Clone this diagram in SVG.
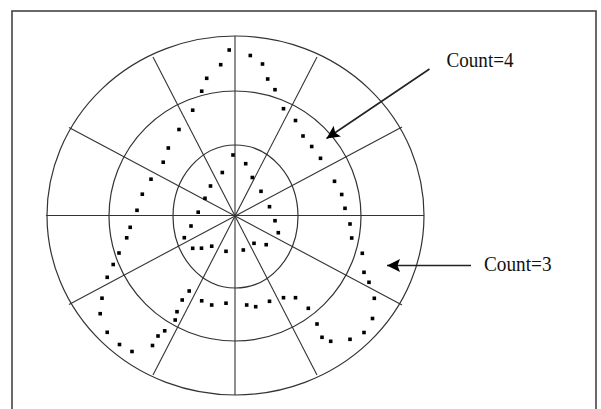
<svg xmlns="http://www.w3.org/2000/svg" width="601" height="409" viewBox="0 0 601 409">
<style>
.ring{fill:none;stroke:#333;stroke-width:1.2}
.spoke{stroke:#333;stroke-width:1.1}
.lbl{font-family:"Liberation Serif","Times New Roman",serif;font-size:21px;fill:#111}
.arr{stroke:#222;stroke-width:1.6}
.d{fill:#000}
</style>
<defs>
<marker id="ah" markerWidth="14" markerHeight="14" refX="13" refY="7" orient="auto" markerUnits="userSpaceOnUse">
<path d="M0,0.5 L13,7 L0,13.5 L2.5,7 Z" fill="#000"/>
</marker>
<rect id="dot" x="-1.8" y="-1.8" width="3.6" height="3.6"/>
</defs>
<rect x="0" y="0" width="601" height="409" fill="#fff"/>
<rect x="12" y="11" width="584" height="410" fill="none" stroke="#444" stroke-width="1.6"/>
<g id="rings">
<ellipse class="ring" cx="235.5" cy="215.5" rx="188.5" ry="179.5"/>
<ellipse class="ring" cx="235" cy="216" rx="126" ry="125"/>
<ellipse class="ring" cx="235.5" cy="216.5" rx="62.5" ry="71.5"/>
</g>
<g id="spokes">
<line class="spoke" x1="235" y1="36" x2="235" y2="395" stroke-width="1.8"/>
<line class="spoke" x1="46" y1="215.5" x2="424" y2="215.5"/>
<line class="spoke" x1="153" y1="57" x2="317" y2="375"/>
<line class="spoke" x1="317" y1="57" x2="153" y2="375"/>
<line class="spoke" x1="69" y1="127.5" x2="402" y2="305"/>
<line class="spoke" x1="402" y1="127" x2="69" y2="304.5"/>
</g>
<g id="dots" class="d">
<use href="#dot" x="229.2" y="50"/><use href="#dot" x="220.7" y="64.7"/><use href="#dot" x="206.7" y="78.3"/><use href="#dot" x="201.7" y="91.2"/>
<use href="#dot" x="192.7" y="110.2"/><use href="#dot" x="179" y="129.5"/><use href="#dot" x="168.3" y="148"/><use href="#dot" x="163.2" y="162.2"/>
<use href="#dot" x="151" y="179.2"/><use href="#dot" x="142.3" y="194.2"/><use href="#dot" x="137" y="210.3"/><use href="#dot" x="130.2" y="227.3"/>
<use href="#dot" x="126.7" y="237.8"/><use href="#dot" x="119" y="253"/><use href="#dot" x="113.2" y="264.5"/><use href="#dot" x="107.2" y="277.3"/>
<use href="#dot" x="102" y="298.2"/><use href="#dot" x="100.2" y="313.7"/><use href="#dot" x="107.2" y="332.3"/><use href="#dot" x="119.5" y="344.5"/>
<use href="#dot" x="132" y="351.5"/><use href="#dot" x="152.5" y="345.5"/><use href="#dot" x="158" y="336"/><use href="#dot" x="164.7" y="330.8"/>
<use href="#dot" x="175.2" y="320"/><use href="#dot" x="177" y="311.7"/><use href="#dot" x="182.2" y="300"/><use href="#dot" x="189.2" y="291"/>
<use href="#dot" x="201.7" y="300.8"/><use href="#dot" x="211.7" y="305"/><use href="#dot" x="226" y="303.2"/><use href="#dot" x="246.7" y="305"/>
<use href="#dot" x="255.7" y="306.7"/><use href="#dot" x="269.5" y="301.3"/><use href="#dot" x="283.5" y="297.7"/><use href="#dot" x="295.5" y="297.7"/>
<use href="#dot" x="308.3" y="308.3"/><use href="#dot" x="317" y="324"/><use href="#dot" x="322" y="337.3"/><use href="#dot" x="330.7" y="341.3"/>
<use href="#dot" x="350" y="339.3"/><use href="#dot" x="364" y="332.5"/><use href="#dot" x="372.5" y="318.5"/><use href="#dot" x="374.3" y="298.3"/>
<use href="#dot" x="369" y="282.3"/><use href="#dot" x="364" y="272.3"/><use href="#dot" x="362.3" y="253.3"/><use href="#dot" x="351.7" y="238"/>
<use href="#dot" x="350" y="224"/><use href="#dot" x="345" y="208.3"/><use href="#dot" x="341.7" y="194.5"/><use href="#dot" x="334.5" y="181.3"/>
<use href="#dot" x="320.5" y="158.3"/><use href="#dot" x="311.7" y="146.5"/><use href="#dot" x="303" y="136"/><use href="#dot" x="295.5" y="120.5"/>
<use href="#dot" x="283.5" y="108.7"/><use href="#dot" x="275" y="89.7"/><use href="#dot" x="267.7" y="79"/><use href="#dot" x="262.5" y="64"/>
<use href="#dot" x="250.3" y="55.5"/>
<use href="#dot" x="233" y="155"/><use href="#dot" x="245.7" y="163.7"/><use href="#dot" x="222.3" y="172.5"/><use href="#dot" x="252.3" y="177.5"/>
<use href="#dot" x="210.5" y="186"/><use href="#dot" x="261" y="191.3"/><use href="#dot" x="205" y="198.3"/><use href="#dot" x="269.5" y="206.7"/>
<use href="#dot" x="198.2" y="212.2"/><use href="#dot" x="275" y="220.7"/><use href="#dot" x="191" y="226"/><use href="#dot" x="278.3" y="232.7"/>
<use href="#dot" x="184.3" y="237.7"/><use href="#dot" x="192.7" y="248.3"/><use href="#dot" x="201.5" y="248.2"/><use href="#dot" x="211.7" y="246.2"/>
<use href="#dot" x="226" y="251.3"/><use href="#dot" x="243.3" y="250"/><use href="#dot" x="254" y="243.3"/><use href="#dot" x="266.2" y="244.7"/>
</g>
<g id="connectors">
<line class="arr" x1="429.5" y1="69" x2="326.5" y2="138.5" marker-end="url(#ah)"/>
<line class="arr" x1="471" y1="265.5" x2="387" y2="265.5" marker-end="url(#ah)"/>
</g>
<g id="label-count4"><text class="lbl" x="446.5" y="66.5" textLength="67" lengthAdjust="spacingAndGlyphs">Count=4</text></g>
<g id="label-count3"><text class="lbl" x="484" y="270.5" textLength="67.5" lengthAdjust="spacingAndGlyphs">Count=3</text></g>
</svg>
